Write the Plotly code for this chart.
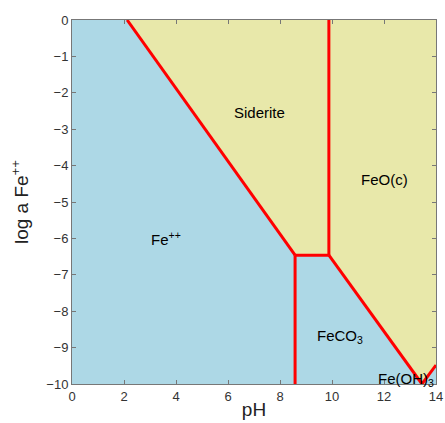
import plotly.graph_objects as go

# Region boundary vertices (pH, log a Fe++)
fe_pp_x = [0, 2.12, 8.58, 8.58, 0]
fe_pp_y = [0, 0, -6.46, -10, -10]
siderite_x = [2.12, 9.88, 9.88, 8.58]
siderite_y = [0, 0, -6.46, -6.46]
feco3_x = [8.58, 9.88, 13.46, 8.58]
feco3_y = [-6.46, -6.46, -10, -10]
feo_x = [9.88, 14, 14, 13.46, 9.88]
feo_y = [0, 0, -9.48, -10, -6.46]
feoh3_x = [13.46, 14, 14]
feoh3_y = [-10, -10, -9.48]

# Boundary lines
lines = [
    ([2.12, 8.58], [0, -6.46]),
    ([8.58, 8.58], [-6.46, -10]),
    ([8.58, 9.88], [-6.46, -6.46]),
    ([9.88, 9.88], [0, -6.46]),
    ([9.88, 13.46], [-6.46, -10]),
    ([13.46, 14], [-10, -9.48]),
]

labels = ["Siderite", "FeO(c)", "Fe<sup>++</sup>", "FeCO<sub>3</sub>", "Fe(OH)<sub>3</sub>"]
label_x = [7.23, 12.0, 3.6, 10.3, 12.85]
label_y = [-2.53, -4.37, -6.0, -8.7, -9.88]

blue = "#ADD8E6"
yellow = "#E8E8AA"
FONT = "Liberation Sans, Arial"

fig = go.Figure()
for xs, ys, c in [(fe_pp_x, fe_pp_y, blue), (siderite_x, siderite_y, yellow),
                  (feco3_x, feco3_y, blue), (feo_x, feo_y, yellow),
                  (feoh3_x, feoh3_y, blue)]:
    fig.add_trace(go.Scatter(x=xs, y=ys, fill="toself", fillcolor=c, mode="lines",
                             line=dict(width=0, color=c), hoverinfo="skip", showlegend=False))
for xs, ys in lines:
    fig.add_trace(go.Scatter(x=xs, y=ys, mode="lines", line=dict(color="#FF0000", width=3),
                             showlegend=False))
for t, x, y in zip(labels, label_x, label_y):
    fig.add_annotation(x=x, y=y, text=t, showarrow=False,
                       font=dict(size=15, color="black", family=FONT))

axis_common = dict(showline=True, linecolor="#777777", linewidth=1, mirror="ticks",
                   ticks="inside", ticklen=4, tickcolor="#777777", showgrid=False,
                   zeroline=False, automargin=False,
                   tickfont=dict(size=13, color="#333333", family=FONT))
fig.update_xaxes(range=[0, 14], dtick=2, tick0=0,
                 title=dict(text="pH", font=dict(size=19, color="#222222", family=FONT), standoff=0),
                 **axis_common)
fig.update_yaxes(range=[-10, 0], dtick=1, tick0=0,
                 title=dict(text="log a Fe<sup>++</sup>", font=dict(size=19, color="#222222", family=FONT), standoff=12),
                 **axis_common)
fig.update_layout(width=445, height=423, margin=dict(l=72, r=9, t=20, b=39),
                  plot_bgcolor="white", paper_bgcolor="white",
                  font=dict(family=FONT))
fig.write_html("out.html", config={"displayModeBar": False},
               post_script="document.body.style.margin='0';document.body.style.overflow='hidden';")
